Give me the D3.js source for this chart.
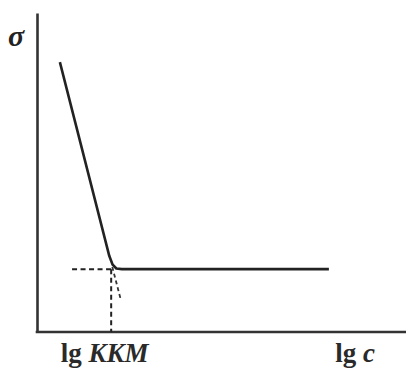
<!DOCTYPE html>
<html>
<head>
<meta charset="utf-8">
<script src="https://cdn.jsdelivr.net/npm/d3@7"></script>
<style>
  html, body { margin: 0; padding: 0; background: #fff; }
  svg { display: block; }
</style>
</head>
<body>
<div id="chart"></div>
<script>
// surface tension vs lg c, with a break at the CMC (values in arbitrary units, 0..100)
const curveX = [6.2, 19.6, 20.5, 21.5, 23.0, 79.1];
const curveY = [84.6, 23.8, 21.1, 19.9, 19.7, 19.7];
const cmcX = 20.1;
const cmcY = 19.7;
const guideStartX = 9.5;
const extrapX = [20.4, 22.6];
const extrapY = [20.4, 10.6];
const yLabel = "σ";
const xLabelCmc = ["lg ", "KKM"];
const xLabelEnd = ["lg ", "c"];
const xLabelCmcPos = 18.3;
const xLabelEndPos = 86.2;

const width = 406, height = 368;
const margin = { top: 13, right: 0, bottom: 36, left: 37 };

const svg = d3.select('#chart').append('svg')
  .attr('width', width)
  .attr('height', height);

const x = d3.scaleLinear().domain([0, 100]).range([margin.left, width - margin.right]);
const y = d3.scaleLinear().domain([0, 100]).range([height - margin.bottom, margin.top]);

// axes, no ticks
const xAxis = svg.append('g')
  .attr('transform', `translate(0,${y(0)})`)
  .call(d3.axisBottom(x).tickValues([]).tickSizeOuter(0));
const yAxis = svg.append('g')
  .attr('transform', `translate(${x(0)},0)`)
  .call(d3.axisLeft(y).tickValues([]).tickSizeOuter(0));
[xAxis, yAxis].forEach(a => a.select('.domain')
  .attr('stroke', '#333')
  .attr('stroke-width', 2.6));
xAxis.select('.domain').attr('d', `M${x(0) - 1.3},0H${x(100)}`);

// dashed guides
const dash = '5,3.5';
svg.append('line')
  .attr('x1', x(guideStartX)).attr('y1', y(cmcY))
  .attr('x2', x(cmcX)).attr('y2', y(cmcY))
  .attr('stroke', '#222').attr('stroke-width', 2).attr('stroke-dasharray', dash);
svg.append('line')
  .attr('x1', x(cmcX)).attr('y1', y(cmcY))
  .attr('x2', x(cmcX)).attr('y2', y(0))
  .attr('stroke', '#222').attr('stroke-width', 2).attr('stroke-dasharray', dash);
svg.append('line')
  .attr('x1', x(extrapX[0])).attr('y1', y(extrapY[0]))
  .attr('x2', x(extrapX[1])).attr('y2', y(extrapY[1]))
  .attr('stroke', '#333').attr('stroke-width', 1.8).attr('stroke-dasharray', '4,3');

// main curve
const pts = curveX.map((v, i) => [v, curveY[i]]);
const line = d3.line()
  .x(d => x(d[0]))
  .y(d => y(d[1]));
svg.append('path')
  .datum(pts)
  .attr('fill', 'none')
  .attr('stroke', '#222')
  .attr('stroke-width', 2.6)
  .attr('stroke-linejoin', 'round')
  .attr('d', line);

// labels
svg.append('text')
  .attr('x', 8).attr('y', 46)
  .attr('font-family', 'Liberation Serif, serif')
  .attr('font-size', 30)
  .attr('font-weight', 'bold')
  .attr('font-style', 'italic')
  .attr('fill', '#222')
  .text(yLabel);

function axisLabel(parts, cx) {
  const t = svg.append('text')
    .attr('x', x(cx)).attr('y', 362)
    .attr('text-anchor', 'middle')
    .attr('font-family', 'Liberation Serif, serif')
    .attr('font-size', 27)
    .attr('font-weight', 'bold')
    .attr('fill', '#2a2a2a');
  t.append('tspan').text(parts[0]);
  t.append('tspan').attr('font-style', 'italic').text(parts[1]);
}
axisLabel(xLabelCmc, xLabelCmcPos);
axisLabel(xLabelEnd, xLabelEndPos);
</script>
</body>
</html>
